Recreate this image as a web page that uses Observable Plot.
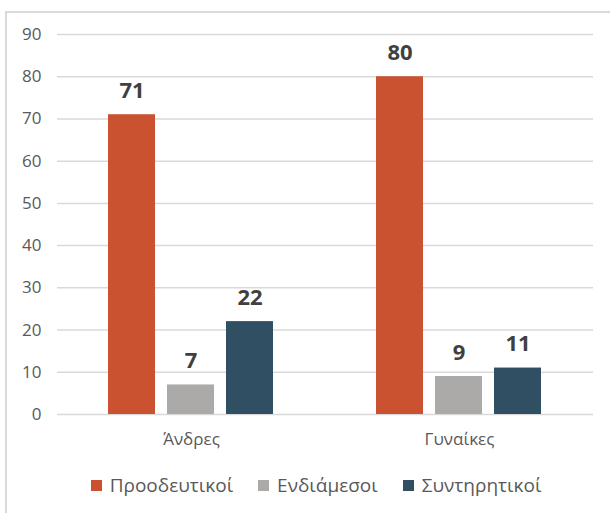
<!DOCTYPE html>
<html>
<head>
<meta charset="utf-8">
<script src="https://cdn.jsdelivr.net/npm/d3@7"></script>
<script src="https://cdn.jsdelivr.net/npm/@observablehq/plot@0.6"></script>
<style>
  html, body { margin: 0; padding: 0; background: #fff; }
  #wrap { position: relative; width: 610px; height: 513px; overflow: hidden; font-family: "Open Sans", sans-serif; }
  #frame { position: absolute; left: 5px; top: 11px; width: 700px; height: 600px; border-top: 2px solid #d9d9d9; border-left: 2px solid #d9d9d9; box-sizing: border-box; }
  #chart { position: absolute; left: 0; top: 0; }
  #legend { position: absolute; left: 0; width: 632px; top: 472px; display: flex; justify-content: center; gap: 25px; font-size: 19px; color: #595959; }
  .item { display: flex; align-items: center; gap: 8px; }
  .sw { width: 11px; height: 11px; display: inline-block; }
</style>
</head>
<body>
<div id="wrap">
  <div id="frame"></div>
  <div id="chart"></div>
  <div id="legend"></div>
</div>
<script>
const groups = ["Άνδρες", "Γυναίκες"];
const series = ["Προοδευτικοί", "Ενδιάμεσοι", "Συντηρητικοί"];
const andres = [71, 7, 22];
const gynaikes = [80, 9, 11];
const colors = ["#CB5231", "#ACA9A9", "#304F62"];
const yTicks = [0, 10, 20, 30, 40, 50, 60, 70, 80, 90];

const values = [andres, gynaikes];
const data = groups.flatMap((g, gi) => series.map((s, si) => ({group: g, series: s, value: values[gi][si]})));

const chart = Plot.plot({
  width: 610,
  height: 460,
  marginLeft: 57,
  marginRight: 17,
  marginTop: 34,
  marginBottom: 46,
  style: {fontFamily: "Open Sans, sans-serif", fontSize: "17px", color: "#595959", background: "transparent", overflow: "visible"},
  fx: {domain: groups, padding: 0, label: null},
  x: {domain: series, axis: null, paddingInner: 0.2, paddingOuter: 0.87},
  y: {domain: [0, 90], label: null},
  color: {domain: series, range: colors},
  marks: [
    Plot.ruleY(yTicks, {stroke: "#d9d9d9", strokeWidth: 1.5}),
    Plot.barY(data, {fx: "group", x: "series", y: "value", fill: "series"}),
    Plot.text(data, {fx: "group", x: "series", y: "value", text: d => String(d.value), dy: -17, lineAnchor: "bottom", fontWeight: "bold", fontSize: 22, fill: "#404040"}),
    Plot.axisY({ticks: yTicks, tickSize: 0, tickPadding: 16, label: null, fontSize: 17}),
    Plot.axisFx({anchor: "bottom", tickSize: 0, tickPadding: 18, label: null, fontSize: 17})
  ]
});
document.getElementById("chart").appendChild(chart);

const legend = document.getElementById("legend");
series.forEach((s, i) => {
  const item = document.createElement("div");
  item.className = "item";
  const sw = document.createElement("span");
  sw.className = "sw";
  sw.style.background = colors[i];
  const t = document.createElement("span");
  t.textContent = s;
  item.appendChild(sw);
  item.appendChild(t);
  legend.appendChild(item);
});
</script>
</body>
</html>
